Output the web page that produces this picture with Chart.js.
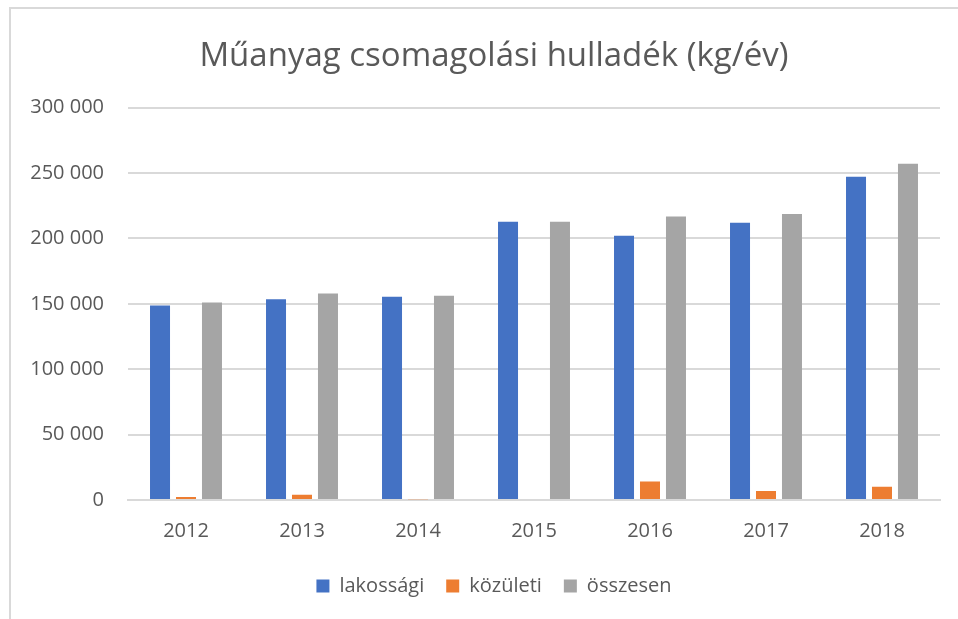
<!DOCTYPE html>
<html>
<head>
<meta charset="utf-8">
<script src="https://cdn.jsdelivr.net/npm/chart.js@4"></script>
<style>
  html, body { margin: 0; padding: 0; background: #fff; overflow: hidden; }
  #frame { position: absolute; left: 9px; top: 7px; width: 960px; height: 620px;
           border-left: 2px solid #d9d9d9; border-top: 2px solid #d9d9d9; }
  #wrap { position: absolute; left: 0; top: 0; width: 958px; height: 619px; }
</style>
</head>
<body>
<div id="frame"></div>
<div id="wrap"><canvas id="chart"></canvas></div>
<script>
const years = ['2012', '2013', '2014', '2015', '2016', '2017', '2018'];
const lakossagi = [148700, 153500, 155300, 212700, 202000, 211900, 247100];
const kozuleti = [2300, 4000, 500, 0, 14200, 6900, 10100];
const osszesen = [151000, 157900, 156200, 212700, 216800, 218700, 257100];

const textColor = '#595959';
const gridColor = '#d9d9d9';
const fontFamily = '"Open Sans", Calibri, sans-serif';

// ezres tagolás szóközzel: 300 000
function fmt(v) {
  return String(v).replace(/\B(?=(\d{3})+(?!\d))/g, ' ');
}

function dataset(label, data, color) {
  return {
    label, data,
    backgroundColor: color,
    borderWidth: 0,
    categoryPercentage: 0.672,
    barPercentage: 0.77
  };
}

// a tengelyfeliratok ne vágódjanak le a bal oldalon
const unclipY = {
  id: 'unclipY',
  afterLayout(chart) { chart.scales.y.left = 0; }
};

new Chart(document.getElementById('chart'), {
  type: 'bar',
  data: {
    labels: years,
    datasets: [
      dataset('lakossági', lakossagi, '#4472c4'),
      dataset('közületi', kozuleti, '#ed7d31'),
      dataset('összesen', osszesen, '#a5a5a5')
    ]
  },
  plugins: [unclipY],
  options: {
    responsive: true,
    maintainAspectRatio: false,
    animation: false,
    layout: { padding: { left: 48, right: 18, top: 33, bottom: 13 } },
    plugins: {
      title: {
        display: true,
        text: 'Műanyag csomagolási hulladék (kg/év)',
        color: textColor,
        font: { family: fontFamily, size: 33, weight: 'normal' },
        padding: { top: 4, bottom: 31 }
      },
      legend: {
        position: 'bottom',
        labels: {
          color: textColor,
          font: { family: fontFamily, size: 20 },
          boxWidth: 13,
          boxHeight: 13,
          padding: 22
        }
      },
      tooltip: { enabled: false }
    },
    scales: {
      x: {
        grid: { display: false },
        border: { color: gridColor, width: 2 },
        ticks: { color: textColor, font: { family: fontFamily, size: 20 }, padding: 11 }
      },
      y: {
        min: 0,
        max: 300000,
        border: { display: false },
        grid: { color: gridColor, lineWidth: 2, drawTicks: false },
        afterFit: scale => { scale.width = 80; },
        ticks: {
          stepSize: 50000,
          color: textColor,
          font: { family: fontFamily, size: 20 },
          padding: 24,
          callback: v => fmt(v)
        }
      }
    }
  }
});
</script>
</body>
</html>
